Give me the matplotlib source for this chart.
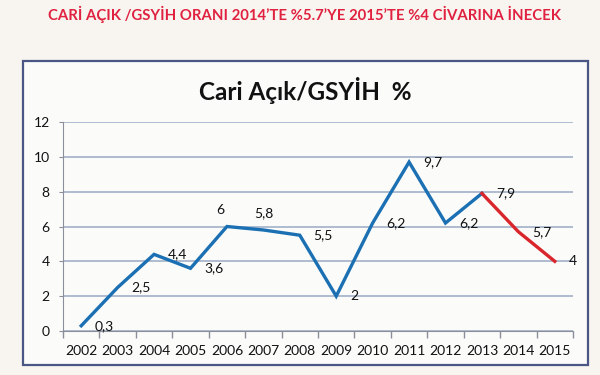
import matplotlib
matplotlib.use("Agg")
import matplotlib.pyplot as plt
from matplotlib.patches import Rectangle

plt.rcParams['font.family'] = ['Lato', 'DejaVu Sans']

years = ['2002', '2003', '2004', '2005', '2006', '2007', '2008',
         '2009', '2010', '2011', '2012', '2013', '2014', '2015']
ratio = [0.3, 2.5, 4.4, 3.6, 6, 5.8, 5.5, 2, 6.2, 9.7, 6.2, 7.9, 5.7, 4]
labels = ['0,3', '2,5', '4,4', '3,6', '6', '5,8', '5,5',
          '2', '6,2', '9,7', '6,2', '7,9', '5,7', '4']
forecast_start = 11  # 2013 -> red from here on

BLUE = '#1b70b3'
RED = '#d9262c'
GRID = '#a9b7cc'

fig = plt.figure(figsize=(6, 3.75), dpi=100)
fig.patch.set_facecolor('#f8f5f1')

# framed chart box
fig.patches.append(Rectangle((23 / 600, 1 - 365 / 375), 565 / 600, 304 / 375,
                             transform=fig.transFigure, facecolor='#fbfbfa',
                             edgecolor='#4a5683', linewidth=1.6, zorder=-5))

fig.text(0.508, 1 - 14 / 375,
         'CARİ AÇIK /GSYİH ORANI 2014\u2019TE %5.7\u2019YE 2015\u2019TE %4 CİVARINA İNECEK',
         color='#e0213f', fontsize=10.7, fontweight='bold', ha='center', va='center')
fig.text(0.508, 1 - 90 / 375, 'Cari Açık/GSYİH  %', color='#111111',
         fontsize=17.5, fontweight='bold', ha='center', va='center')

ax = fig.add_axes([63 / 600, 1 - 331 / 375, 510 / 600, 209 / 375])
ax.set_facecolor('none')
ax.set_zorder(2)

x = list(range(len(years)))
ax.plot(x[:forecast_start + 1], ratio[:forecast_start + 1], color=BLUE, lw=2.4,
        solid_joinstyle='miter', zorder=3)
ax.plot(x[forecast_start:], ratio[forecast_start:], color=RED, lw=2.4, zorder=3)

for i, (v, t) in enumerate(zip(ratio, labels)):
    if t in ('6', '5,8'):
        ax.annotate(t, (i, v), xytext=(-5 if t == '6' else 0, 12), textcoords='offset points',
                    ha='center', va='center', fontsize=10, color='#111111')
    else:
        ax.annotate(t, (i, v), xytext=(10, 0), textcoords='offset points',
                    ha='left', va='center', fontsize=10, color='#111111')

ax.set_xlim(-0.5, len(years) - 0.5)
ax.set_ylim(0, 12)
ax.set_yticks(range(0, 13, 2))
ax.set_xticks(x)
ax.set_xticklabels(years)
ax.set_xticks([i - 0.5 for i in range(len(years) + 1)], minor=True)
ax.tick_params(axis='x', which='major', length=0, pad=10, labelsize=10, labelcolor='#111111')
ax.tick_params(axis='x', which='minor', length=5, color='#8a8f99', width=1)
ax.tick_params(axis='y', length=3, color='#8a8f99', labelsize=10, labelcolor='#111111', pad=6.5)

ax.grid(axis='y', color=GRID, lw=1.3)
ax.set_axisbelow(True)
for side in ('top', 'right'):
    ax.spines[side].set_visible(False)
ax.spines['left'].set_color('#8a8f99')
ax.spines['bottom'].set_color('#8a8f99')

fig.savefig('out.png', dpi=100, facecolor=fig.get_facecolor())
